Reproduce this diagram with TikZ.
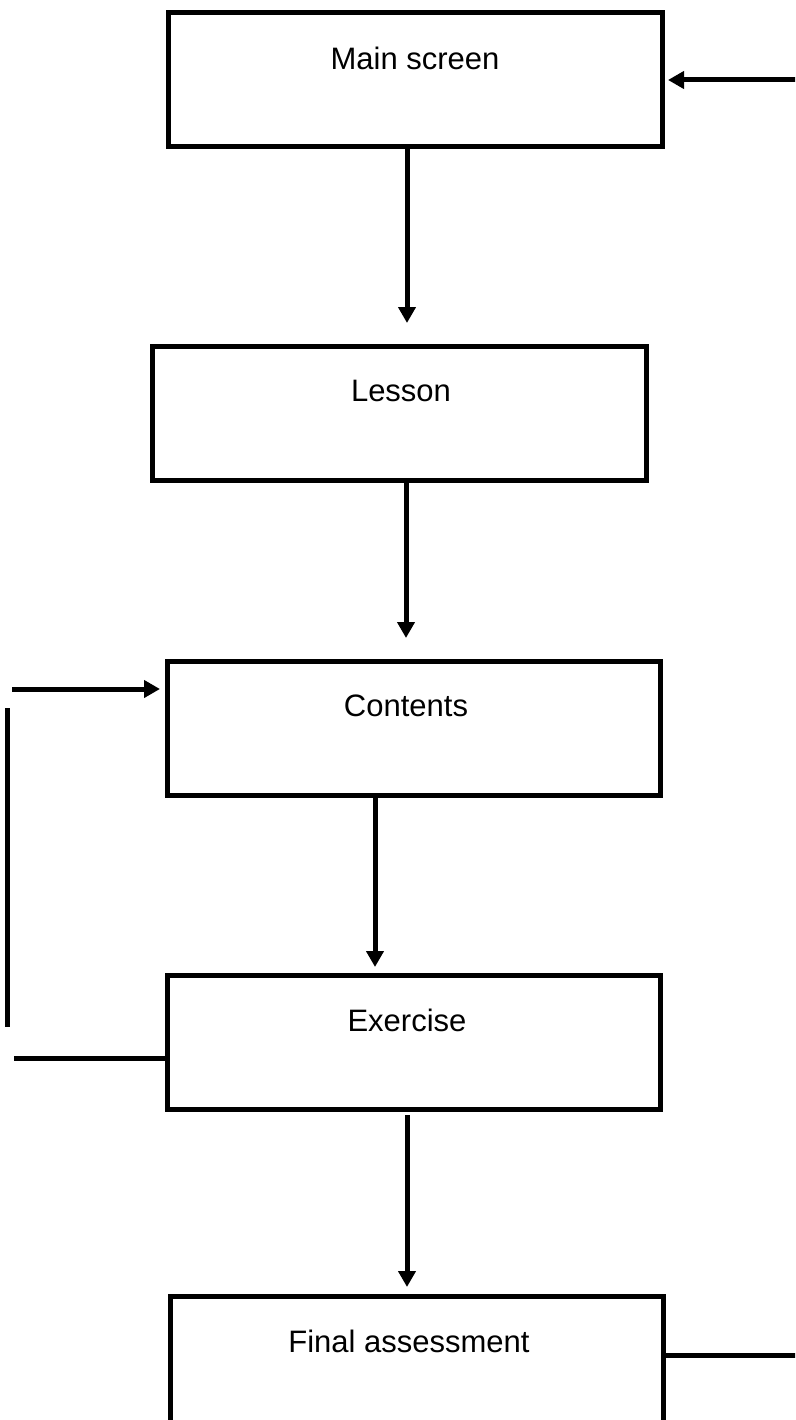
\documentclass[tikz,border=0pt]{standalone}
\usepackage{fontspec}
\setmainfont{Liberation Sans}
\usetikzlibrary{arrows.meta}
\begin{document}
\begin{tikzpicture}[x=1pt,y=-1pt,
  box/.style={draw,line width=5pt,rectangle,inner sep=0pt,outer sep=0pt},
  lbl/.style={font=\fontsize{31}{37}\selectfont,inner sep=0pt},
  conn/.style={line width=5pt},
  arr/.style={conn,-{Triangle[length=16pt,width=17pt]}}]
\clip (0,0) rectangle (795,1420);
\useasboundingbox (0,0) rectangle (795,1420);
\fill[white] (0,0) rectangle (795,1420);
% boxes
\node[box,minimum width=494pt,minimum height=134pt] (main) at (415,80) {};
\node[box,minimum width=494pt,minimum height=134pt] (lesson) at (399,413) {};
\node[box,minimum width=493pt,minimum height=134pt] (contents) at (413.5,728) {};
\node[box,minimum width=493pt,minimum height=134pt] (exercise) at (413.5,1042) {};
\node[box,minimum width=493pt,minimum height=134pt] (final) at (416.5,1363) {};
% texts
\node[lbl] (mainT) at (415,58) {Main screen};
\node[lbl] (lessonT) at (401,391) {Lesson};
\node[lbl] (contentsT) at (406,706) {Contents};
\node[lbl] (exerciseT) at (407,1020) {Exercise};
\node[lbl] (finalT) at (409,1341) {Final assessment};
% helper coordinates
\coordinate (xA) at (407,0);
\coordinate (xB) at (406,0);
\coordinate (xC) at (375,0);
\coordinate (xD) at (407,0);
\coordinate (rEdge) at (797,0);
\coordinate (rArrow) at (797,80);
\coordinate (rLine) at (797,1355);
\coordinate (lTop) at (12,689);
\coordinate (vTop) at (7,708);
\coordinate (vBot) at (7,1027);
\coordinate (lBot) at (14,1058);
% vertical arrows
\draw[arr,shorten >=23pt] (main.south -| xA) -- (lesson.north -| xA);
\draw[arr,shorten >=23pt] (lesson.south -| xB) -- (contents.north -| xB);
\draw[arr,shorten >=8pt] (contents.south -| xC) -- (exercise.north -| xC);
\draw[arr,shorten <=6pt,shorten >=9pt] (exercise.south -| xD) -- (final.north -| xD);
% right loop
\draw[conn] (final.east |- rLine) -- (rLine);
\draw[arr,shorten >=6pt] (rArrow) -- (main.east |- rArrow);
% left loop
\draw[conn] (lBot) -- (lBot -| exercise.west);
\draw[conn] (vTop) -- (vBot);
\draw[arr,shorten >=7pt] (lTop) -- (lTop -| contents.west);
\end{tikzpicture}
\end{document}
